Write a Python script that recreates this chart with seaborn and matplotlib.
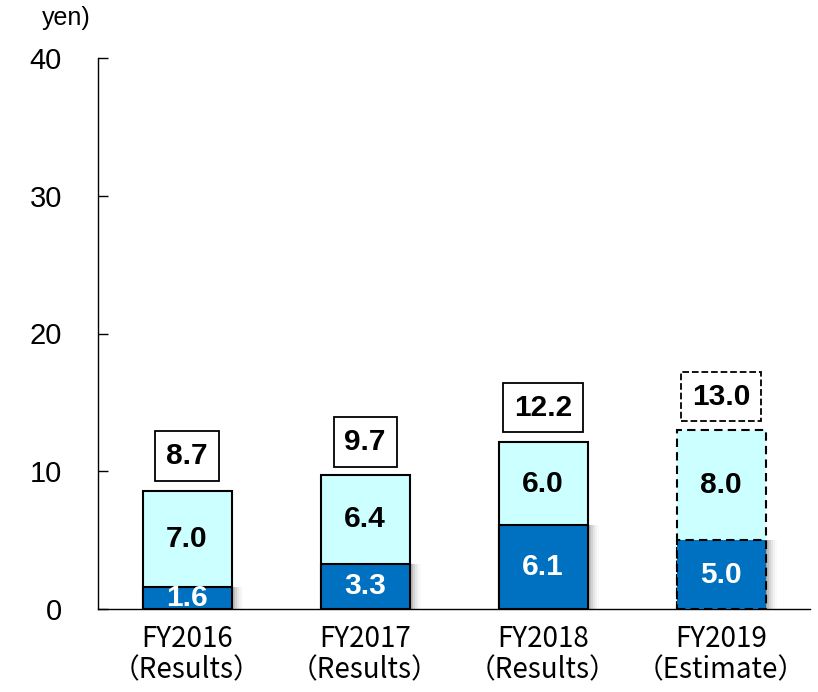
import matplotlib
matplotlib.use("Agg")
import matplotlib.pyplot as plt
import seaborn as sns
import pandas as pd
import numpy as np

categories = ["FY2016\n（Results）", "FY2017\n（Results）", "FY2018\n（Results）", "FY2019\n（Estimate）"]
lower_values = [1.6, 3.3, 6.1, 5.0]
upper_values = [7.0, 6.4, 6.0, 8.0]
total_values = [8.7, 9.7, 12.2, 13.0]
y_ticks = [0, 10, 20, 30, 40]

sns.set_theme(style="white")
plt.rcParams['font.family'] = ['Liberation Sans', 'DejaVu Sans']

dark = "#0070C0"
light = "#CCFFFF"

df = pd.DataFrame({"cat": categories, "lower": lower_values,
                   "upper": upper_values, "total": total_values})
df["stack"] = df["lower"] + df["upper"]

fig = plt.figure(figsize=(8.18, 6.92), dpi=100)
ax = fig.add_axes([98/818, 83/692, 712/818, 551/692])

# upper (full stack) bars
sns.barplot(data=df, x="cat", y="stack", color=light, saturation=1, width=0.5,
            edgecolor="black", linewidth=1.5, ax=ax, zorder=2)

# shadow for dark bars
for k, a in enumerate([0.14, 0.10, 0.07, 0.05, 0.03, 0.02]):
    xs = np.arange(len(categories)) + 0.011 * (k + 1)
    ax.bar(xs, lower_values, width=0.5, color="black", alpha=a, linewidth=0, zorder=1.5)

sns.barplot(data=df, x="cat", y="lower", color=dark, saturation=1, width=0.5,
            edgecolor="black", linewidth=1.5, ax=ax, zorder=3)

# dashed edges for estimate
for p in ax.patches:
    if p.get_zorder() in (2, 3):
        cx = p.get_x() + p.get_width() / 2
        if abs(cx - 3) < 0.1:
            p.set_linestyle((0, (4, 2.5)))

# segment labels
for i in range(len(categories)):
    ax.text(i, lower_values[i] / 2, f"{lower_values[i]:.1f}", ha="center", va="center",
            color="white", fontsize=21.5, fontweight="bold", zorder=5)
    ax.text(i, lower_values[i] + upper_values[i] / 2, f"{upper_values[i]:.1f}", ha="center",
            va="center", color="black", fontsize=21.5, fontweight="bold", zorder=5)
    ls = "--" if i == 3 else "-"
    ax.annotate(f"{total_values[i]:.1f}", xy=(i, total_values[i]), xytext=(0, 24),
                textcoords="offset points", ha="center", va="center",
                fontsize=21.5, fontweight="bold", color="black", zorder=5,
                bbox=dict(boxstyle="square,pad=0.36", fc="white", ec="black",
                          lw=1.3, ls=ls))

ax.set_ylim(0, 40)
ax.set_xlim(-0.5, 3.5)
ax.set_yticks(y_ticks)
ax.set_yticklabels([str(t) for t in y_ticks], fontsize=21, color="black")
ax.set_xticks(range(len(categories)))
ax.set_xticklabels(categories, fontsize=20, family=['Noto Sans CJK JP', 'DejaVu Sans'],
                   linespacing=1.05, color="black")
ax.set_xticks(np.arange(-0.5, 4.0, 1.0), minor=True)
ax.tick_params(axis="x", which="major", length=0, pad=11)
ax.tick_params(axis="x", which="minor", direction="in", length=8, width=1, color="black")
ax.tick_params(axis="y", direction="in", length=7, width=1, color="black", pad=26, left=True)
ax.set_xlabel("")
ax.set_ylabel("")
for s in ["top", "right"]:
    ax.spines[s].set_visible(False)
for s in ["left", "bottom"]:
    ax.spines[s].set_color("black")
    ax.spines[s].set_linewidth(1)
ax.grid(False)

fig.text(42/818, 1 - 18/692, "yen)", fontsize=18, va="center", ha="left", color="black")

fig.savefig("out.png", dpi=100)
